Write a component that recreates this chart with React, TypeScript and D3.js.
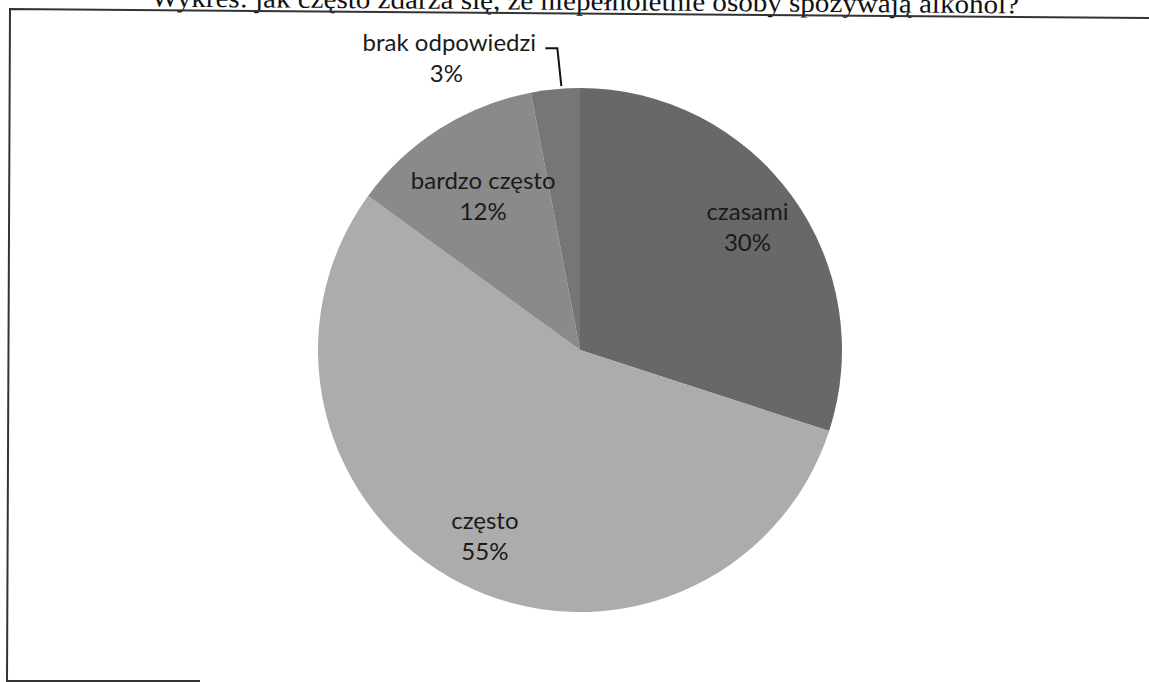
import { useEffect, useRef } from "react";
import * as d3 from "d3";

const categories = ['czasami', 'często', 'bardzo często', 'brak odpowiedzi'];
const values = [30, 55, 12, 3];
const percentLabels = ['30%', '55%', '12%', '3%'];
const sliceColors = ['#686868', '#acacac', '#8a8a8a', '#767676'];

const title = 'Wykres: jak często zdarza się, że niepełnoletnie osoby spożywają alkohol?';

// how far out (fraction of radius) the inside labels sit, like Excel puts them
const labelRadius: { [key: string]: number } = {
    'czasami': 0.79,
    'często': 0.8,
    'bardzo często': 0.69,
}

type Slice = { name: string; value: number; pct: string; color: string };

export default function App() {
    const width = 1149;
    const height = 682;
    const cx = 580;
    const cy = 350;
    const radius = 262;

    const svgRef = useRef<SVGSVGElement | null>(null);

    useEffect(() => {
        const data: Slice[] = categories.map((c, i) => ({
            name: c, value: values[i], pct: percentLabels[i], color: sliceColors[i]
        }));

        const svg = d3.select(svgRef.current)
            .attr('viewBox', [0, 0, width, height])
        svg.selectAll('*').remove()

        svg.append('rect')
            .attr('width', width)
            .attr('height', height)
            .attr('fill', 'white')

        // scanned page: title cut off at the top, everything slightly tilted
        svg.append('text')
            .attr('x', 585)
            .attr('y', 10)
            .attr('transform', 'rotate(0.45, 585, 10)')
            .attr('text-anchor', 'middle')
            .attr('textLength', 868)
            .attr('lengthAdjust', 'spacingAndGlyphs')
            .style('font-family', '"Liberation Serif", "DejaVu Serif", serif')
            .style('font-size', '27px')
            .style('fill', '#111')
            .text(title)

        svg.append('path')
            .attr('d', 'M1149,18 L10,9 L7,681 L200,681')
            .attr('fill', 'none')
            .attr('stroke', '#333')
            .attr('stroke-width', 2)

        const g = svg.append('g')
            .attr('transform', `translate(${cx}, ${cy})`)

        const pie = d3.pie<Slice>()
            .value(d => d.value)
            .sort(null)
        const arcs = pie(data)

        const arc = d3.arc<d3.PieArcDatum<Slice>>()
            .innerRadius(0)
            .outerRadius(radius)

        g.selectAll('path.slice')
            .data(arcs)
            .join('path')
            .attr('class', 'slice')
            .attr('d', arc)
            .attr('fill', d => d.data.color)

        const fontFamily = 'Lato, "Open Sans", sans-serif'
        const inside = arcs.filter(a => a.data.value >= 10)
        const outside = arcs.filter(a => a.data.value < 10)

        inside.forEach(a => {
            const r = radius * (labelRadius[a.data.name] ?? 0.75)
            const [x, y] = d3.arc<d3.PieArcDatum<Slice>>()
                .innerRadius(r)
                .outerRadius(r)
                .centroid(a)
            const t = g.append('text')
                .attr('text-anchor', 'middle')
                .style('font-family', fontFamily)
                .style('font-size', '24px')
                .style('fill', '#1a1a1a')
            t.append('tspan').attr('x', x).attr('y', y - 8).text(a.data.name)
            t.append('tspan').attr('x', x).attr('y', y + 23).text(a.data.pct)
        })

        // small slice: label outside with a leader line
        outside.forEach(a => {
            const mid = (a.startAngle + a.endAngle) / 2
            const ex = Math.sin(mid) * radius
            const ey = -Math.cos(mid) * radius
            const elbowX = ex + 2
            const elbowY = ey - 41
            g.append('path')
                .attr('d', `M${ex + 6},${ey - 3} L${elbowX},${elbowY} L${elbowX - 12},${elbowY}`)
                .attr('fill', 'none')
                .attr('stroke', '#111')
                .attr('stroke-width', 2)
            const lx = elbowX - 108
            const t = g.append('text')
                .attr('text-anchor', 'middle')
                .style('font-family', fontFamily)
                .style('font-size', '24px')
                .style('fill', '#1a1a1a')
            t.append('tspan').attr('x', lx).attr('y', elbowY + 3).text(a.data.name)
            t.append('tspan').attr('x', lx - 3).attr('y', elbowY + 34).text(a.data.pct)
        })
    }, []);

    return (
        <svg ref={svgRef} width={width} height={height}
            style={{ position: 'absolute', left: 0, top: 0, display: 'block' }}>
        </svg>
    )
}
